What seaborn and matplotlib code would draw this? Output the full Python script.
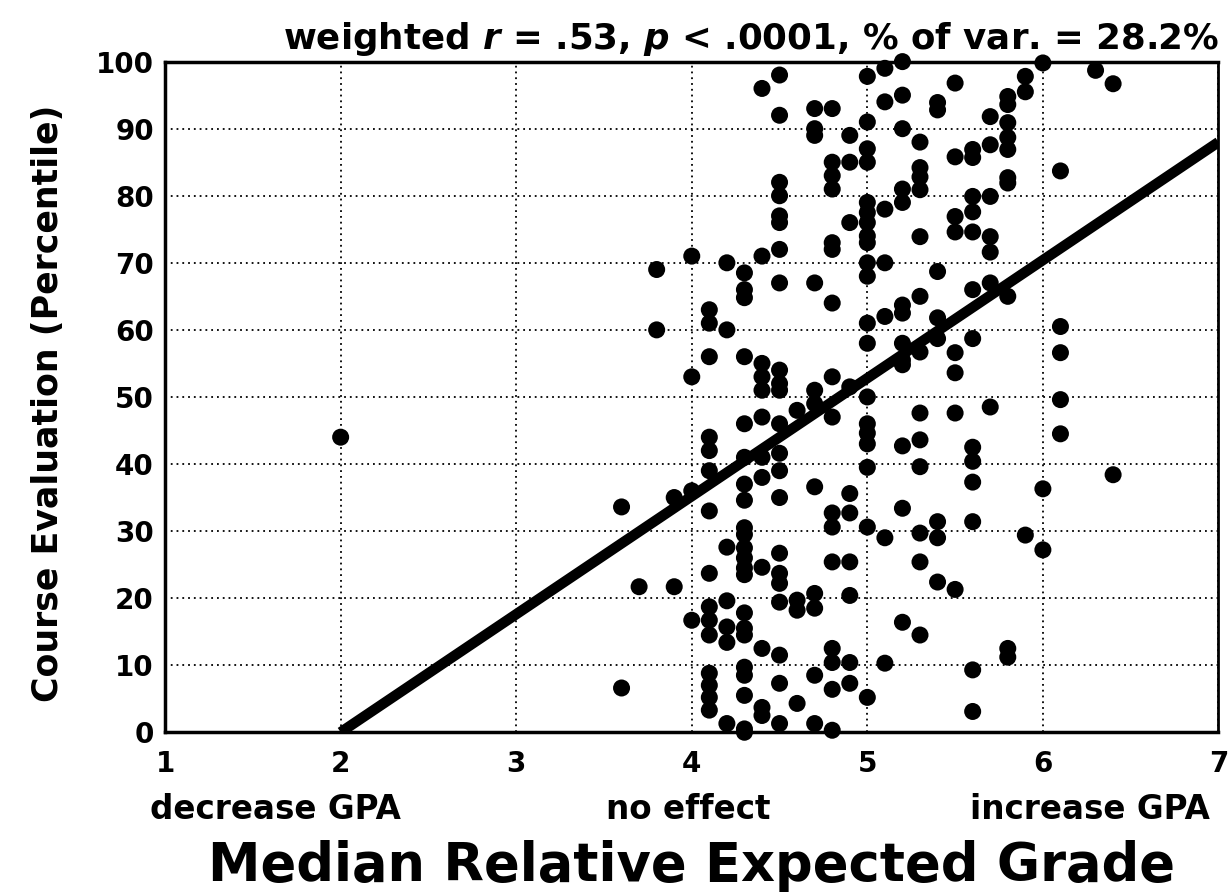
import numpy as np
import pandas as pd
import matplotlib
matplotlib.use("Agg")
import matplotlib.pyplot as plt
import matplotlib.transforms as mtransforms
import seaborn as sns

# Course evaluations grouped by median relative expected grade (column -> percentiles)
grade_columns = [2.0, 3.6, 3.7, 3.8, 3.9, 4.0, 4.1, 4.2, 4.3, 4.4, 4.5, 4.6, 4.7, 4.8,
                 4.9, 5.0, 5.1, 5.2, 5.3, 5.4, 5.5, 5.6, 5.7, 5.8, 5.9, 6.0, 6.1, 6.3, 6.4]
percentiles = [
    [44],
    [33.6, 6.6],
    [21.7],
    [69, 60],
    [35, 21.7],
    [71, 53, 36, 16.7],
    [63, 61, 56, 44, 42, 39, 33, 23.7, 18.7, 16.7, 14.5, 8.8, 7.0, 5.2, 3.3],
    [70, 60, 27.6, 19.6, 15.7, 13.4, 1.3],
    [68.5, 66, 64.8, 56, 46, 41, 37, 34.6, 30.5, 29.5, 27.5, 26, 24.5, 23.5,
     17.8, 15.5, 14.5, 9.7, 8.5, 5.5, 0.5, 0],
    [96, 71, 55, 53, 51, 47, 41, 38, 24.6, 12.5, 3.7, 2.5],
    [98, 92, 82, 80, 77, 76, 72, 67, 54, 52, 51, 46, 41.6, 39, 35, 26.7, 23.7,
     22.2, 19.4, 11.5, 7.3, 1.3],
    [48, 19.7, 18.2, 4.3],
    [93, 90, 89, 67, 51, 49, 36.6, 20.7, 18.5, 8.5, 1.3],
    [93, 85, 83, 81, 73, 72, 64, 53, 47, 32.7, 30.6, 25.4, 12.5, 10.4, 6.4, 0.3],
    [89, 85, 76, 51.5, 35.6, 32.7, 25.4, 20.4, 10.4, 7.3],
    [97.8, 91, 87, 85, 79, 77.5, 76, 74, 73, 70, 68, 61, 58, 50, 46, 44.6, 43,
     39.5, 30.6, 5.2],
    [99, 94, 78, 70, 62, 29, 10.3],
    [100, 95, 90, 81, 79, 63.7, 62.5, 58, 55.5, 54.8, 42.7, 33.4, 16.4],
    [88, 84.2, 82.8, 80.9, 73.9, 65, 56.7, 47.6, 43.6, 39.6, 29.7, 25.4, 14.5],
    [93.9, 92.8, 68.7, 61.8, 58.7, 31.4, 29, 22.4],
    [96.8, 85.8, 76.9, 74.6, 56.6, 53.6, 47.6, 21.3],
    [86.9, 85.7, 79.9, 77.6, 74.6, 66, 58.7, 42.5, 40.4, 37.3, 31.4, 9.3, 3.1],
    [91.8, 87.6, 79.9, 73.9, 71.6, 67, 48.5],
    [94.8, 93.6, 90.9, 88.7, 86.9, 82.7, 81.9, 65, 12.5, 11.2],
    [97.8, 95.5, 29.4],
    [99.8, 36.3, 27.2],
    [83.7, 60.5, 56.6, 49.6, 44.5],
    [98.7],
    [96.7, 38.4],
]

# Weighted regression line end points
fit_x = [2.0, 7.0]
fit_y = [0.0, 88.0]

x_ticks = [1, 2, 3, 4, 5, 6, 7]
y_ticks = [0, 10, 20, 30, 40, 50, 60, 70, 80, 90, 100]
anchor_labels = ["decrease GPA", "no effect", "increase GPA"]
anchor_pos = [1.63, 3.98, 6.27]

df = pd.DataFrame(
    [(g, p) for g, ps in zip(grade_columns, percentiles) for p in ps],
    columns=["grade", "evaluation"],
)
fit = pd.DataFrame({"grade": fit_x, "evaluation": fit_y})

sns.set_style("white")
plt.rcParams["font.family"] = ["DejaVu Sans"]
plt.rcParams["font.weight"] = "bold"
plt.rcParams["text.color"] = "black"
plt.rcParams["axes.labelcolor"] = "black"
plt.rcParams["xtick.color"] = "black"
plt.rcParams["ytick.color"] = "black"
plt.rcParams["mathtext.fontset"] = "custom"
plt.rcParams["mathtext.it"] = "DejaVu Sans:bold:italic"
plt.rcParams["mathtext.rm"] = "DejaVu Sans:bold"

fig = plt.figure(figsize=(12.32, 8.93), dpi=100)
ax = fig.add_axes([0.134, 0.180, 0.855, 0.751])

ax.set_xlim(1, 7)
ax.set_ylim(0, 100)
ax.set_xticks(x_ticks)
ax.set_yticks(y_ticks)
ax.grid(True, color="black", linestyle=(0, (1, 2.2)), linewidth=1.3)
ax.set_axisbelow(True)

sns.scatterplot(data=df, x="grade", y="evaluation", ax=ax, color="black",
                s=150, edgecolor="none", zorder=3, clip_on=False)
sns.lineplot(data=fit, x="grade", y="evaluation", ax=ax, color="black",
             linewidth=7.5, zorder=4, solid_capstyle="butt")

for side in ["left", "bottom", "top", "right"]:
    ax.spines[side].set_visible(True)
    ax.spines[side].set_color("black")
ax.spines["left"].set_linewidth(2.5)
ax.spines["bottom"].set_linewidth(2.5)
ax.spines["top"].set_linewidth(2.5)
ax.spines["right"].set_linewidth(2.0)

ax.tick_params(axis="both", length=0, labelsize=20)
ax.tick_params(axis="y", pad=8)
ax.tick_params(axis="x", pad=13)
for lab in ax.get_xticklabels() + ax.get_yticklabels():
    lab.set_fontweight("bold")

trans = mtransforms.blended_transform_factory(ax.transData, ax.transAxes)
for txt, pos in zip(anchor_labels, anchor_pos):
    ax.text(pos, -0.090, txt, transform=trans, ha="center", va="top",
            fontsize=23.5, fontweight="bold")

ax.set_xlabel("Median Relative Expected Grade", fontsize=38, fontweight="bold")
ax.xaxis.set_label_coords(0.5, -0.160)
ax.set_ylabel("Course Evaluation (Percentile)", fontsize=25, fontweight="bold")
ax.yaxis.set_label_coords(-0.095, 0.49)
ax.set_title(r"weighted $\mathit{r}$ = .53, $\mathit{p}$ < .0001, % of var. = 28.2%",
             loc="right", fontsize=25.7, fontweight="bold", pad=9)

fig.savefig("out.png", dpi=100)
